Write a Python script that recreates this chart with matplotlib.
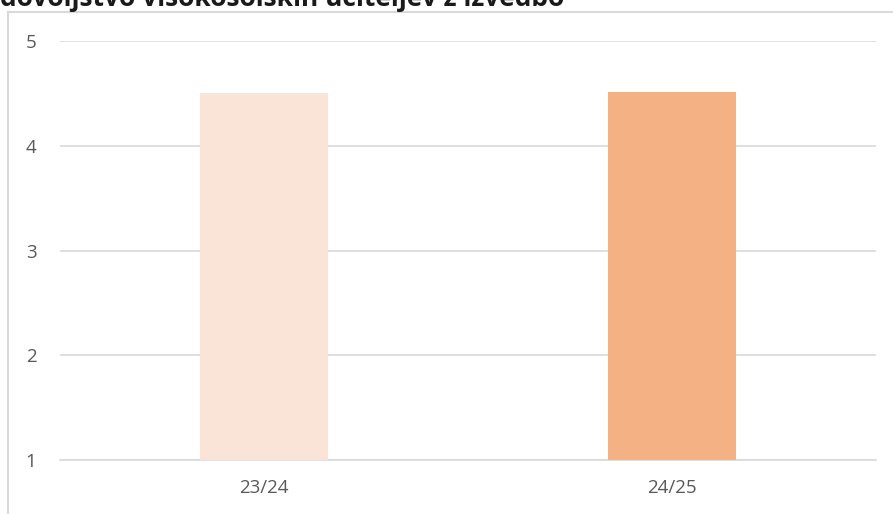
import matplotlib
matplotlib.use("Agg")
import matplotlib.pyplot as plt
from matplotlib.lines import Line2D

# data
categories = ['23/24', '24/25']
values = [4.50, 4.51]
colors = ['#FAE4D7', '#F4B183']
yticks = [1, 2, 3, 4, 5]
title = 'dovoljstvo visokošolskih učiteljev z izvedbo'

plt.rcParams['font.family'] = ['Open Sans', 'DejaVu Sans']

fig = plt.figure(figsize=(8.93, 5.14), dpi=100)
ax = fig.add_axes([60/893, 1-460/514, (876-60)/893, (460-41)/514])

x = range(len(categories))
ax.bar(x, [v - 1 for v in values], bottom=1, width=0.314, color=colors, zorder=3)

ax.set_xlim(-0.5, 1.5)
ax.set_ylim(1, 5)
ax.set_yticks(yticks)
ax.set_xticks(list(x))
ax.set_xticklabels(categories)
ax.grid(axis='y', color='#d9d9d9', linewidth=1.2, zorder=0)
for s in ['top', 'right', 'left']:
    ax.spines[s].set_visible(False)
ax.spines['bottom'].set_color('#d9d9d9')
ax.spines['bottom'].set_linewidth(1.2)
ax.tick_params(axis='both', length=0, labelsize=13.5, labelcolor='#595959')
ax.tick_params(axis='y', pad=17)
ax.tick_params(axis='x', pad=14)

# chart border (cropped)
fig.add_artist(Line2D([8/893, 8/893], [0, 1-12/514], color='#d9d9d9', linewidth=1.5))
fig.add_artist(Line2D([8/893, 1], [1-12/514, 1-12/514], color='#d9d9d9', linewidth=1.5))

# title, cut at the top edge as in the source
fig.text(0, 1-6/514, title, fontsize=19, fontweight='bold', color='#1a1a1a',
         ha='left', va='baseline')

fig.savefig('out.png', dpi=100)
